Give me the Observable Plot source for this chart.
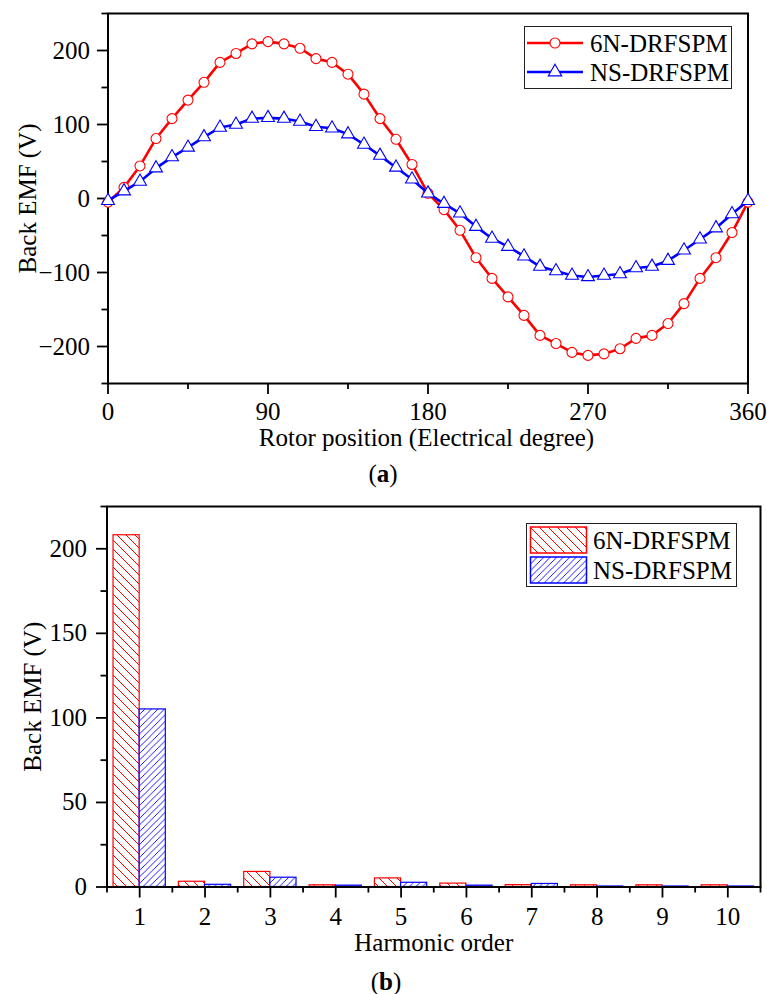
<!DOCTYPE html>
<html>
<head>
<meta charset="utf-8">
<script src="https://cdn.jsdelivr.net/npm/d3@7"></script>
<script src="https://cdn.jsdelivr.net/npm/@observablehq/plot@0.6"></script>
<style>
  html, body { margin: 0; padding: 0; background: #fff; }
  #wrap { position: relative; width: 767px; height: 994px; overflow: hidden; background: #fff;
          font-family: "Liberation Serif", "Times New Roman", Times, serif; color: #000; }
  #wrap svg, #wrap svg text { font-family: "Liberation Serif", "Times New Roman", Times, serif !important; }
  .abs { position: absolute; }
  .cap { position: absolute; width: 100px; text-align: center; font-size: 25px; line-height: 28px; }
</style>
</head>
<body>
<div id="wrap">
  <svg width="0" height="0" style="position:absolute">
    <defs>
      <pattern id="hatchred" patternUnits="userSpaceOnUse" width="9" height="9">
        <rect width="9" height="9" fill="white"/>
        <path d="M0,0 L9,9 M-2,7 L2,11 M7,-2 L11,2" stroke="#ff0000" stroke-width="1"/>
      </pattern>
      <pattern id="hatchblue" patternUnits="userSpaceOnUse" width="6.5" height="6.5">
        <rect width="6.5" height="6.5" fill="white"/>
        <path d="M0,6.5 L6.5,0 M-2,2 L2,-2 M4.5,8.5 L8.5,4.5" stroke="#0000ff" stroke-width="0.9"/>
      </pattern>
    </defs>
  </svg>
  <div id="chartA" class="abs" style="left:0;top:0"></div>
  <div class="cap" style="left:333px;top:460px">(<b>a</b>)</div>
  <div id="chartB" class="abs" style="left:0;top:490px"></div>
  <div class="cap" style="left:336px;top:968px">(<b>b</b>)</div>
  <div id="legA" class="abs" style="left:524px;top:26px"></div>
  <div id="legB" class="abs" style="left:526px;top:523px"></div>
</div>
<script>
// ---------- data ----------
const seriesNames = ["6N-DRFSPM", "NS-DRFSPM"];
const seriesColors = ["#ff0000", "#0000ff"];

// (a) back EMF waveform
const angles = [0, 9, 18, 27, 36, 45, 54, 63, 72, 81, 90, 99, 108, 117, 126, 135, 144, 153, 162, 171,
  180, 189, 198, 207, 216, 225, 234, 243, 252, 261, 270, 279, 288, 297, 306, 315, 324, 333, 342, 351, 360];
const emf6N = [-5, 15, 44, 81, 108, 133, 157, 184, 196, 209, 212, 209, 203, 189, 184, 168, 141, 108, 80, 46,
  7, -15, -43, -80, -108, -133, -158, -185, -196, -208, -212, -210, -203, -189, -185, -169, -142, -108, -80, -46, -5];
const emfNS = [-3, 10, 23, 41, 56, 69, 83, 96, 100, 108, 109, 108, 104, 97, 95, 87, 73, 58, 42, 26,
  7, -7, -20, -38, -54, -65, -78, -92, -98, -104, -106, -104, -102, -94, -92, -84, -70, -55, -40, -21, -3];
const xTicksA = [0, 90, 180, 270, 360];
const xMinorA = [45, 135, 225, 315];
const yTicksA = [-200, -100, 0, 100, 200];
const yMinorA = [-250, -150, -50, 50, 150, 250];

// (b) harmonic spectrum
const harmonics = [1, 2, 3, 4, 5, 6, 7, 8, 9, 10];
const amp6N = [208, 3.1, 8.9, 1.0, 5.1, 2.0, 1.1, 1.0, 1.0, 1.0];
const ampNS = [105, 1.3, 5.5, 0.8, 2.5, 0.8, 1.8, 0.3, 0.3, 0.3];
const xMinorB = [0.5, 1.5, 2.5, 3.5, 4.5, 5.5, 6.5, 7.5, 8.5, 9.5, 10.5];
const yTicksB = [0, 50, 100, 150, 200];
const yMinorB = [25, 75, 125, 175, 225];

const FONT = '"Liberation Serif", "Times New Roman", Times, serif';
const FS = 25;
const axisText = {fontSize: FS, fontFamily: FONT, fontVariant: "normal", label: null};

// ---------- chart (a) ----------
const redA = angles.map((a, i) => ({a, v: emf6N[i]}));
const blueA = angles.map((a, i) => ({a, v: emfNS[i]}));

const chartA = Plot.plot({
  width: 767, height: 455,
  marginTop: 13, marginBottom: 72, marginLeft: 107.5, marginRight: 19.5,
  x: {domain: [0, 360]},
  y: {domain: [-250, 250]},
  style: {fontFamily: FONT, fontSize: FS + "px", color: "black", background: "transparent", overflow: "visible"},
  marks: [
    Plot.axisY(yTicksA, {tickSize: 10.5, tickPadding: 7.5, strokeWidth: 1.8, ...axisText}),
    Plot.axisY(yMinorA, {tickSize: 6, strokeWidth: 1.8, text: null, label: null}),
    Plot.axisX(xTicksA, {tickSize: 11, tickPadding: 7.5, strokeWidth: 1.8, ...axisText}),
    Plot.axisX(xMinorA, {tickSize: 6, strokeWidth: 1.8, text: null, label: null}),
    Plot.frame({stroke: "black", strokeWidth: 2}),
    Plot.line(redA, {x: "a", y: "v", stroke: seriesColors[0], strokeWidth: 2.6}),
    Plot.dot(redA, {x: "a", y: "v", r: 5, stroke: seriesColors[0], fill: "white", strokeWidth: 1.1}),
    Plot.line(blueA, {x: "a", y: "v", stroke: seriesColors[1], strokeWidth: 2.6}),
    Plot.dot(blueA, {x: "a", y: "v", symbol: "triangle", r: 4.8, stroke: seriesColors[1], fill: "white", strokeWidth: 1.1}),
    Plot.text(["Back EMF (V)"], {text: d => d, frameAnchor: "left", textAnchor: "middle", lineAnchor: "middle", dx: -80.5, rotate: -90, fontSize: FS, fontFamily: FONT}),
    Plot.text(["Rotor position (Electrical degree)"], {text: d => d, frameAnchor: "bottom", textAnchor: "middle", lineAnchor: "middle", dy: 54, dx: -1.5, fontSize: FS, fontFamily: FONT})
  ]
});
document.getElementById("chartA").append(chartA);

// ---------- chart (b) ----------
const redB = harmonics.map((h, i) => ({h, v: amp6N[i]}));
const blueB = harmonics.map((h, i) => ({h, v: ampNS[i]}));
const BW = 0.4;

const chartB = Plot.plot({
  width: 767, height: 465,
  marginTop: 16, marginBottom: 68.5, marginLeft: 106.5, marginRight: 7,
  x: {domain: [0.5, 10.5]},
  y: {domain: [0, 225]},
  style: {fontFamily: FONT, fontSize: FS + "px", color: "black", background: "transparent", overflow: "visible"},
  marks: [
    Plot.rect(redB, {x1: d => d.h - BW, x2: d => d.h, y1: 0, y2: "v", fill: "url(#hatchred)", stroke: seriesColors[0], strokeWidth: 1.2}),
    Plot.rect(blueB, {x1: d => d.h, x2: d => d.h + BW, y1: 0, y2: "v", fill: "url(#hatchblue)", stroke: seriesColors[1], strokeWidth: 1.2}),
    Plot.axisY(yTicksB, {tickSize: 10.5, tickPadding: 9.5, strokeWidth: 1.8, ...axisText}),
    Plot.axisY(yMinorB, {tickSize: 6, strokeWidth: 1.8, text: null, label: null}),
    Plot.axisX(harmonics, {tickSize: 11, tickPadding: 9.5, strokeWidth: 1.8, ...axisText}),
    Plot.axisX(xMinorB, {tickSize: 6, strokeWidth: 1.8, text: null, label: null}),
    Plot.frame({stroke: "black", strokeWidth: 2}),
    Plot.text(["Back EMF (V)"], {text: d => d, frameAnchor: "left", textAnchor: "middle", lineAnchor: "middle", dx: -74.5, rotate: -90, fontSize: FS, fontFamily: FONT}),
    Plot.text(["Harmonic order"], {text: d => d, frameAnchor: "bottom", textAnchor: "middle", lineAnchor: "middle", dy: 55.5, fontSize: FS, fontFamily: FONT})
  ]
});
document.getElementById("chartB").append(chartB);

// ---------- legends ----------
function legendA() {
  const svg = d3.select("#legA").append("svg").attr("width", 209).attr("height", 64)
    .style("overflow", "visible");
  svg.append("rect").attr("x", 0.5).attr("y", 0.5).attr("width", 207).attr("height", 62)
    .attr("fill", "white").attr("stroke", "#222").attr("stroke-width", 1);
  seriesNames.forEach((name, i) => {
    const cy = 17 + i * 29;
    svg.append("line").attr("x1", 3).attr("x2", 59).attr("y1", cy).attr("y2", cy)
      .attr("stroke", seriesColors[i]).attr("stroke-width", 2.6);
    const sym = i === 0 ? d3.symbolCircle : d3.symbolTriangle;
    svg.append("path").attr("d", d3.symbol(sym, Math.PI * 25)())
      .attr("transform", `translate(31,${cy})`)
      .attr("fill", "white").attr("stroke", seriesColors[i]).attr("stroke-width", 1.1);
    svg.append("text").attr("x", 66).attr("y", cy).attr("dy", "0.34em")
      .attr("font-size", FS).attr("fill", "black").text(name);
  });
}
function legendB() {
  const svg = d3.select("#legB").append("svg").attr("width", 212).attr("height", 65)
    .style("overflow", "visible");
  svg.append("rect").attr("x", 0.5).attr("y", 0.5).attr("width", 210).attr("height", 63)
    .attr("fill", "white").attr("stroke", "#222").attr("stroke-width", 1);
  const fills = ["url(#hatchred)", "url(#hatchblue)"];
  seriesNames.forEach((name, i) => {
    const y0 = 4 + i * 30;
    svg.append("rect").attr("x", 4.5).attr("y", y0).attr("width", 56).attr("height", 26)
      .attr("fill", fills[i]).attr("stroke", seriesColors[i]).attr("stroke-width", 1.5);
    svg.append("text").attr("x", 67).attr("y", y0 + 13).attr("dy", "0.34em")
      .attr("font-size", FS).attr("fill", "black").text(name);
  });
}
legendA();
legendB();
</script>
</body>
</html>
